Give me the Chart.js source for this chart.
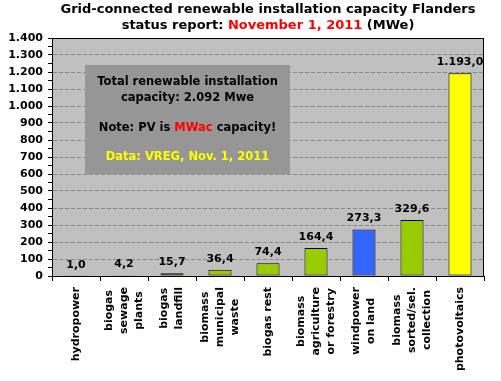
<!DOCTYPE html>
<html>
<head>
<meta charset="utf-8">
<script src="https://cdn.jsdelivr.net/npm/chart.js@4/dist/chart.umd.min.js"></script>
<style>
  html, body { margin: 0; padding: 0; background: #ffffff; }
  #wrap { width: 501px; height: 381px; }
</style>
</head>
<body>
<div id="wrap"><canvas id="c" width="501" height="381"></canvas></div>
<script>
// ---- data ----
const categories = [
  ["hydropower"],
  ["biogas", "sewage", "plants"],
  ["biogas", "landfill"],
  ["biomass", "municipal", "waste"],
  ["biogas rest"],
  ["biomass", "agriculture", "or forestry"],
  ["windpower", "on land"],
  ["biomass", "sorted/sel.", "collection"],
  ["photovoltaics"]
];
const values = [1.0, 4.2, 15.7, 36.4, 74.4, 164.4, 273.3, 329.6, 1193.0];
const barColors = ["#3366FF", "#99CC00", "#99CC00", "#99CC00", "#99CC00", "#99CC00", "#3366FF", "#99CC00", "#FFFF00"];
const yMin = 0, yMax = 1400, yStep = 100;
const titleLine1 = "Grid-connected renewable installation capacity Flanders";
const titleLine2 = [["status report: ", "#000000"], ["November 1, 2011", "#FF0000"], [" (MWe)", "#000000"]];
const noteLines = [
  [["Total renewable installation", "#000000"]],
  [["capacity: 2.092 Mwe", "#000000"]],
  [["Note: PV is ", "#000000"], ["MWac", "#FF0000"], [" capacity!", "#000000"]],
  [["Data: VREG, Nov. 1, 2011", "#FFFF00"]]
];

const FONT = '"DejaVu Sans", Verdana, sans-serif';

function fmtInt(v) {
  return String(Math.round(v)).replace(/\B(?=(\d{3})+(?!\d))/g, ".");
}
function fmt1(v) {
  const s = v.toFixed(1).split(".");
  return fmtInt(Number(s[0])) + "," + s[1];
}

function drawSegments(ctx, segs, cx, y) {
  let total = 0;
  segs.forEach(s => { total += ctx.measureText(s[0]).width; });
  let x = cx - total / 2;
  ctx.textAlign = "left";
  segs.forEach(s => {
    ctx.fillStyle = s[1];
    ctx.fillText(s[0], x, y);
    x += ctx.measureText(s[0]).width;
  });
}

const customPlugin = {
  id: "custom",
  beforeDraw(chart) {
    const {ctx, chartArea: a} = chart;
    ctx.save();
    ctx.fillStyle = "#C0C0C0";
    ctx.fillRect(a.left, a.top, a.right - a.left, a.bottom - a.top);
    ctx.restore();
  },
  afterDatasetsDraw(chart) {
    const {ctx, chartArea: a} = chart;
    const meta = chart.getDatasetMeta(0);
    ctx.save();
    // value labels
    ctx.font = "bold 11px " + FONT;
    ctx.fillStyle = "#000000";
    ctx.textAlign = "center";
    ctx.textBaseline = "middle";
    meta.data.forEach((el, i) => {
      ctx.fillText(fmt1(values[i]), el.x, el.y - 11);
    });
    // plot border
    ctx.strokeStyle = "#000000";
    ctx.lineWidth = 1;
    ctx.strokeRect(Math.round(a.left) + 0.5, Math.round(a.top) + 0.5,
                   Math.round(a.right - a.left) - 1, Math.round(a.bottom - a.top));
    ctx.restore();
  },
  afterDraw(chart) {
    const {ctx, chartArea: a} = chart;
    const xs = chart.scales.x;
    ctx.save();
    // title
    ctx.font = "bold 13px " + FONT;
    ctx.textBaseline = "middle";
    const tcx = (a.left + a.right) / 2;
    drawSegments(ctx, [[titleLine1, "#000000"]], tcx, 10);
    drawSegments(ctx, titleLine2, tcx, 26);

    // category labels (rotated, lines centred)
    ctx.font = "bold 11px " + FONT;
    ctx.fillStyle = "#000000";
    categories.forEach((lines, i) => {
      const cx = xs.getPixelForValue(i);
      let maxW = 0;
      lines.forEach(l => { maxW = Math.max(maxW, ctx.measureText(l).width); });
      const cy = a.bottom + 11 + maxW / 2;
      lines.forEach((l, j) => {
        const lx = cx + (j - (lines.length - 1) / 2) * 15;
        ctx.save();
        ctx.translate(lx, cy);
        ctx.rotate(-Math.PI / 2);
        ctx.textAlign = "center";
        ctx.textBaseline = "middle";
        ctx.fillText(l, 0, 0);
        ctx.restore();
      });
    });

    // note box
    ctx.fillStyle = "#969696";
    ctx.fillRect(85, 65, 205, 109);
    ctx.font = "bold 11.5px " + FONT;
    ctx.textBaseline = "middle";
    const bcx = 187.5;
    const ys = [82, 98, 128, 157];
    noteLines.forEach((segs, k) => drawSegments(ctx, segs, bcx, ys[k]));
    ctx.restore();
  }
};

new Chart(document.getElementById("c"), {
  type: "bar",
  data: {
    labels: categories,
    datasets: [{
      data: values,
      backgroundColor: barColors,
      borderColor: "#000000",
      borderWidth: 1,
      borderSkipped: false,
      categoryPercentage: 1.0,
      barPercentage: 0.48
    }]
  },
  options: {
    responsive: false,
    animation: false,
    devicePixelRatio: 1,
    layout: { padding: { top: 38, right: 17, left: 0, bottom: 0 } },
    plugins: {
      legend: { display: false },
      title: { display: false },
      tooltip: { enabled: false }
    },
    scales: {
      x: {
        ticks: { display: false },
        grid: {
          offset: true,
          drawOnChartArea: false,
          drawTicks: true,
          tickLength: 5,
          tickColor: "#000000"
        },
        border: { display: true, color: "#000000" },
        afterFit(scale) { scale.height = 105; }
      },
      y: {
        min: yMin,
        max: yMax,
        ticks: {
          stepSize: yStep / 2,
          autoSkip: false,
          padding: 5,
          color: "#000000",
          font: { family: FONT, size: 11, weight: "bold" },
          callback: (v) => (v % yStep === 0 ? fmtInt(v) : "")
        },
        grid: {
          color: (c) => (c.tick && c.tick.value % yStep === 0 && c.tick.value > yMin && c.tick.value < yMax) ? "#8a8a8a" : "rgba(0,0,0,0)",
          tickColor: "#000000",
          tickLength: 4,
          drawTicks: true,
          tickBorderDash: []
        },
        border: { display: true, color: "#000000", dash: [4, 2] },
        afterFit(scale) { scale.width = 52; }
      }
    }
  },
  plugins: [customPlugin]
});
</script>
</body>
</html>
